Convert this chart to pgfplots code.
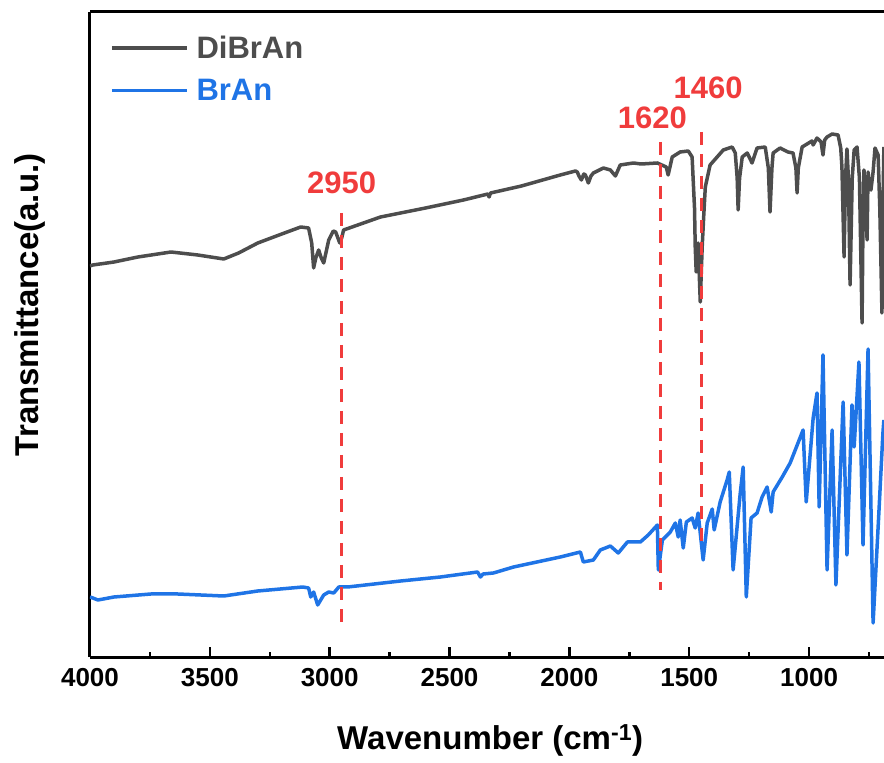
\documentclass[border=0pt]{standalone}
\usepackage{pgfplots}
\pgfplotsset{compat=1.18}
\usepackage{fontspec}
\setmainfont{Liberation Sans}
\definecolor{dibran}{HTML}{4D4D4D}
\definecolor{bran}{HTML}{1F74E6}
\definecolor{redl}{HTML}{F03C3C}
\begin{document}
\begin{tikzpicture}
\begin{axis}[
  scale only axis, width=794pt, height=645pt,
  x dir=reverse, xmin=687.5, xmax=4000, ymin=1, ymax=646,
  axis y line*=left, axis x line*=box,
  xtick={1000,1500,...,4000}, minor xtick={750,1250,...,3750}, ytick=\empty,
  xtick pos=left,
  axis line style={line width=3pt},
  major tick length=10pt, minor tick length=5pt,
  every tick/.style={line width=2.5pt, black},
  tick align=inside,
  /pgf/number format/assume math mode=true,
  /pgf/number format/set thousands separator={},
  tick label style={font=\fontsize{26}{30}\selectfont\bfseries},
  xticklabel style={yshift=-8pt},
  xlabel={Wavenumber (cm\textsuperscript{-1})},
  ylabel={Transmittance(a.u.)},
  label style={font=\fontsize{33}{36}\selectfont\bfseries},
  xlabel style={at={(axis description cs:0.504,-0.129)}, anchor=center},
  ylabel style={at={(axis description cs:-0.0756,0.546)}, anchor=center},
  legend style={draw=none, fill=none, at={(axis description cs:0.025,0.966)}, anchor=north west,
    font=\fontsize{31}{34}\selectfont\bfseries, row sep=15pt, inner sep=0pt},
  legend cell align=left,
  legend image code/.code={\draw[#1, line width=3.5pt] (0pt,0pt) -- (75pt,0pt); \path (81pt,0pt);},
  every axis plot/.append style={line width=3.5pt, line join=round},
]
\addplot[color=dibran] coordinates {
(4000,392)(3988,393)(3900,396)(3800,401)(3662,406)(3550,403)(3442,399)(3380,405)(3300,415)(3200,424)(3121,431)(3088,430)(3075,415)(3067,390)(3058,400)(3046,408)(3035,400)(3025,395)(3004,418)(2985,427)(2975,426)(2958,415)(2950,420)(2942,428)(2788,441)(2600,450)(2442,458)(2340,464)(2335,461)(2329,465)(2200,472)(2038,483)(1975,487)(1967,486)(1960,482)(1950,478)(1940,484)(1933,483)(1921,475)(1910,482)(1900,485)(1858,490)(1829,488)(1808,482)(1788,493)(1733,495)(1700,494)(1633,495)(1596,491)(1588,483)(1571,501)(1538,506)(1504,507)(1488,501)(1478,450)(1475,411)(1471,386)(1463,415)(1454,356)(1446,411)(1440,440)(1433,471)(1413,493)(1358,508)(1321,511)(1308,505)(1300,480)(1296,448)(1290,480)(1279,501)(1258,505)(1238,495)(1217,510)(1183,511)(1170,490)(1163,446)(1155,490)(1150,505)(1121,510)(1088,506)(1067,505)(1055,490)(1050,465)(1045,490)(1029,511)(988,517)(983,513)(967,520)(950,516)(942,503)(935,518)(925,521)(904,524)(879,523)(868,510)(863,491)(854,401)(848,480)(842,509)(836,480)(829,373)(820,480)(812,508)(800,511)(790,480)(779,335)(775,440)(771,488)(765,460)(758,418)(754,486)(748,470)(742,468)(733,486)(725,510)(712,503)(705,450)(696,345)(692,450)(688,511)
};
\addlegendentry{\textcolor{dibran}{DiBrAn}}
\addplot[color=bran] coordinates {
(4000,61)(3988,60)(3967,58)(3900,61)(3746,64)(3633,64)(3442,62)(3300,67)(3112,71)(3088,70)(3079,61)(3067,66)(3050,53)(3025,63)(3004,66)(2983,65)(2962,71)(2925,71)(2704,77)(2538,81)(2383,86)(2371,81)(2360,84)(2317,85)(2233,91)(2038,101)(1954,106)(1942,96)(1900,98)(1871,108)(1829,112)(1796,105)(1758,116)(1704,116)(1671,123)(1633,133)(1629,88)(1612,118)(1579,126)(1558,135)(1546,121)(1538,138)(1525,110)(1512,136)(1488,140)(1475,130)(1463,145)(1442,98)(1425,135)(1404,149)(1396,128)(1371,156)(1342,178)(1333,186)(1317,88)(1288,163)(1275,191)(1262,61)(1242,140)(1217,145)(1196,161)(1175,171)(1158,146)(1150,166)(1112,181)(1079,195)(1025,228)(1012,156)(983,240)(967,265)(958,151)(942,303)(925,88)(904,228)(888,73)(858,256)(842,103)(821,253)(812,211)(792,296)(775,113)(754,309)(733,35)(710,140)(692,225)(688,238)
};
\addlegendentry{\textcolor{bran}{BrAn}}
\addplot[color=redl, line width=3pt, dash pattern=on 13pt off 9pt, forget plot] coordinates {(2950,445)(2950,33)};
\addplot[color=redl, line width=3pt, dash pattern=on 13pt off 9pt, forget plot] coordinates {(1620,516)(1620,68)};
\addplot[color=redl, line width=3pt, dash pattern=on 13pt off 9pt, forget plot] coordinates {(1450,526)(1450,113)};
\node[text=redl, font=\fontsize{31}{34}\selectfont\bfseries] at (axis cs:2950,475) {2950};
\node[text=redl, font=\fontsize{31}{34}\selectfont\bfseries] at (axis cs:1654,540) {1620};
\node[text=redl, font=\fontsize{31}{34}\selectfont\bfseries] at (axis cs:1421,570) {1460};
\end{axis}
\pgfresetboundingbox
\path[use as bounding box] ([xshift=-90pt,yshift=-106pt]current axis.south west) rectangle ([yshift=12pt]current axis.north east);
\end{tikzpicture}
\end{document}
